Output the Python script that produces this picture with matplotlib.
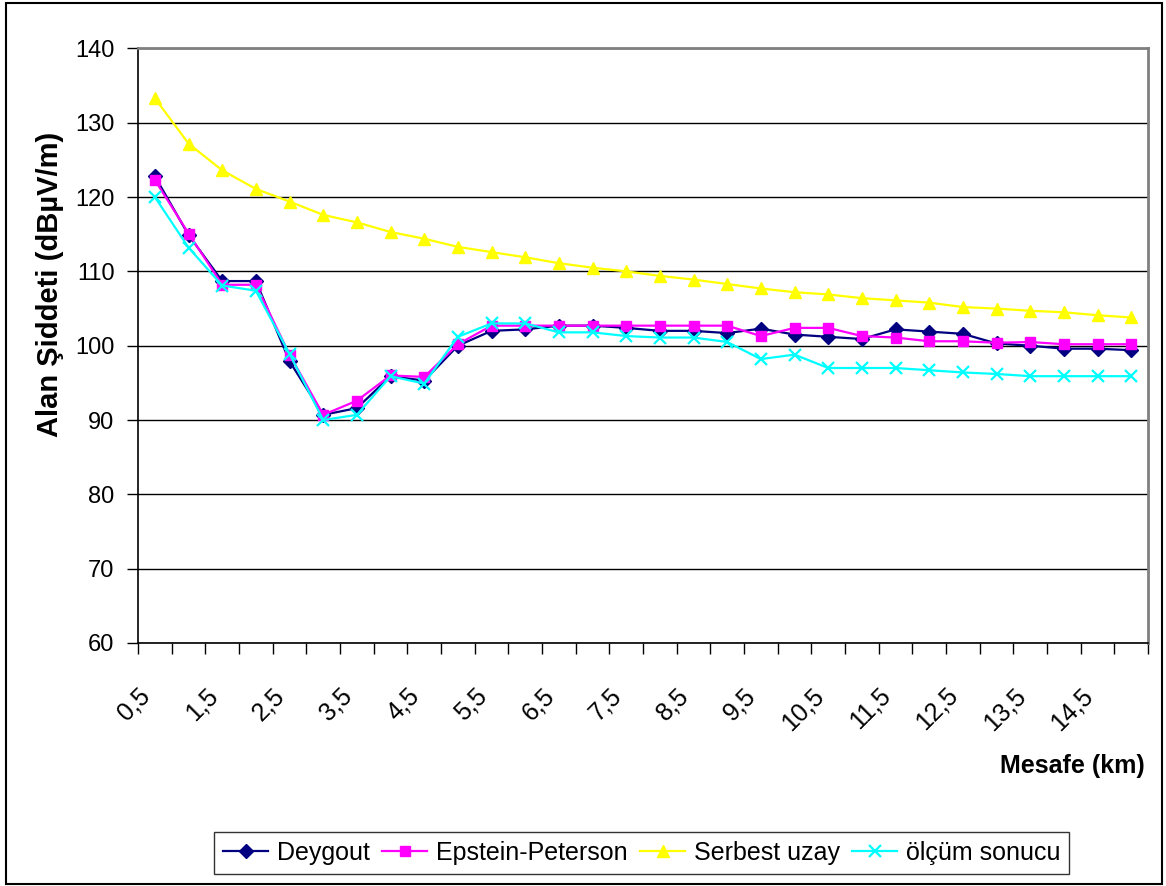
import matplotlib
matplotlib.use("Agg")
import matplotlib.pyplot as plt
from matplotlib.patches import Rectangle

plt.rcParams["font.family"] = ["Liberation Sans", "DejaVu Sans"]

# distance (km) and field strength (dBuV/m) per model
distance_km = [0.5, 1.0, 1.5, 2.0, 2.5, 3.0, 3.5, 4.0, 4.5, 5.0,
               5.5, 6.0, 6.5, 7.0, 7.5, 8.0, 8.5, 9.0, 9.5, 10.0,
               10.5, 11.0, 11.5, 12.0, 12.5, 13.0, 13.5, 14.0, 14.5, 15.0]
deygout = [122.8, 114.9, 108.7, 108.7, 97.9, 90.7, 91.6, 95.9, 95.3, 100.0,
           102.0, 102.2, 102.7, 102.7, 102.4, 102.0, 102.0, 101.7, 102.3, 101.5,
           101.2, 100.9, 102.2, 101.9, 101.6, 100.3, 100.0, 99.6, 99.6, 99.4]
epstein_peterson = [122.3, 115.1, 108.2, 108.2, 98.8, 90.7, 92.6, 96.0, 95.8, 100.2,
                    102.7, 102.7, 102.7, 102.7, 102.7, 102.7, 102.7, 102.7, 101.3, 102.4,
                    102.4, 101.3, 101.1, 100.6, 100.6, 100.4, 100.5, 100.2, 100.2, 100.2]
serbest_uzay = [133.3, 127.2, 123.6, 121.1, 119.4, 117.6, 116.6, 115.3, 114.4, 113.3,
                112.6, 111.9, 111.1, 110.5, 110.0, 109.4, 108.9, 108.3, 107.7, 107.2,
                106.9, 106.4, 106.1, 105.8, 105.2, 105.0, 104.7, 104.5, 104.1, 103.8]
olcum_sonucu = [120.0, 113.2, 108.1, 107.4, 98.9, 90.0, 90.7, 95.9, 94.9, 101.2,
                103.0, 103.0, 101.8, 101.8, 101.3, 101.1, 101.1, 100.5, 98.2, 98.8,
                97.0, 97.0, 97.0, 96.7, 96.4, 96.2, 95.9, 95.9, 95.9, 95.9]

tick_labels = ["0,5", "1,5", "2,5", "3,5", "4,5", "5,5", "6,5", "7,5",
               "8,5", "9,5", "10,5", "11,5", "12,5", "13,5", "14,5"]
labelled_km = [0.5, 1.5, 2.5, 3.5, 4.5, 5.5, 6.5, 7.5,
               8.5, 9.5, 10.5, 11.5, 12.5, 13.5, 14.5]

fig = plt.figure(figsize=(11.66, 8.86), dpi=100)
ax = fig.add_axes([0.1184, 0.2743, 0.8662, 0.671])

ax.plot(distance_km, deygout, color="#000080", lw=1.6, marker="D", ms=7,
        label="Deygout", zorder=3)
ax.plot(distance_km, epstein_peterson, color="#ff00ff", lw=1.6, marker="s", ms=7.5,
        label="Epstein-Peterson", zorder=4)
ax.plot(distance_km, serbest_uzay, color="#ffff00", lw=1.6, marker="^", ms=9,
        label="Serbest uzay", zorder=3)
ax.plot(distance_km, olcum_sonucu, color="#00ffff", lw=1.6, marker="x", ms=9,
        mew=1.6, label="ölçüm sonucu", zorder=5)

step = distance_km[1] - distance_km[0]
ax.set_xlim(distance_km[0] - step / 2, distance_km[-1] + step / 2)
ax.set_ylim(60, 140)
ax.set_yticks(range(60, 141, 10))
ax.yaxis.grid(True, color="black", lw=1.0)
ax.set_axisbelow(True)

# category boundaries carry the tick marks, labels sit on every other category
ax.set_xticks([d - step / 2 for d in distance_km] + [distance_km[-1] + step / 2])
ax.set_xticklabels([])
ax.set_xticks(labelled_km, minor=True)
ax.set_xticklabels(tick_labels, minor=True, rotation=45, ha="right", va="top",
                   fontsize=18)
ax.tick_params(axis="x", which="minor", length=0, pad=29)
ax.tick_params(axis="x", which="major", length=8, width=1.0, direction="out")
ax.tick_params(axis="y", length=8, width=1.0, labelsize=17, pad=9)

for side in ("top", "right"):
    ax.spines[side].set_color("#808080")
    ax.spines[side].set_linewidth(2)
for side in ("left", "bottom"):
    ax.spines[side].set_color("black")
    ax.spines[side].set_linewidth(1.2)

ax.set_ylabel("Alan Şiddeti (dBµV/m)", fontsize=21, fontweight="bold")
ax.yaxis.set_label_coords(-0.073, 0.603)
fig.text(0.982, 0.136, "Mesafe (km)", fontsize=18, fontweight="bold",
         ha="right", va="center")

leg = fig.legend(loc="center", bbox_to_anchor=(0.5506, 0.0372), ncol=4,
                 fontsize=18, frameon=True, fancybox=False, shadow=False,
                 handlelength=1.8, handletextpad=0.35, columnspacing=0.5,
                 borderpad=0.35, borderaxespad=0)
leg.get_frame().set_edgecolor("black")
leg.get_frame().set_linewidth(1.0)

# outer chart border
fig.patches.append(Rectangle((6 / 1166, 2 / 886), 1156 / 1166, 881 / 886,
                             transform=fig.transFigure, fill=False,
                             edgecolor="black", lw=1.5))

fig.savefig("out.png", dpi=100)
